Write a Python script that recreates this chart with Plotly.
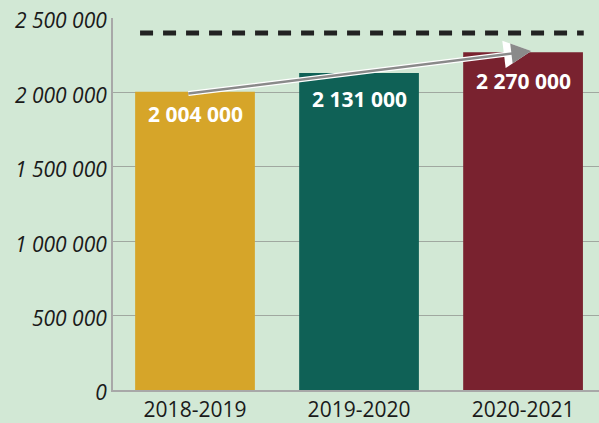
import plotly.graph_objects as go

categories = ["2018-2019", "2019-2020", "2020-2021"]
values = [2004000, 2131000, 2270000]
value_labels = ["2 004 000", "2 131 000", "2 270 000"]
bar_colors = ["#d6a529", "#0f6156", "#79222f"]
target_value = 2400000
y_tickvals = [0, 500000, 1000000, 1500000, 2000000, 2500000]
y_ticktext = ["0", "500 000", "1 000 000", "1 500 000", "2 000 000", "2 500 000"]

FONT = "Open Sans"
label_shifts = [-6, -10, -13]  # pixel offsets of value labels below bar tops (style)

fig = go.Figure()
fig.add_trace(go.Bar(
    x=list(range(len(categories))), y=values,
    marker=dict(color=bar_colors, line=dict(width=0)),
    width=0.73, hoverinfo="skip",
))

for i, (v, t) in enumerate(zip(values, value_labels)):
    fig.add_annotation(x=i, y=v, text=t, showarrow=False, yanchor="top", yshift=label_shifts[i],
                       font=dict(family=FONT, size=21, color="white", weight="bold"))

# target dashed line
fig.add_shape(type="line", xref="x", yref="y", x0=-0.335, x1=2.37, y0=target_value, y1=target_value,
              line=dict(color="#222222", width=5, dash="13px,10px"))

# growth arrow (white outline + grey arrow)
tail = (-0.05, 1991000)
head = (2.05, 2278000)
fig.add_annotation(x=head[0], y=head[1], ax=tail[0], ay=tail[1], axref="x", ayref="y",
                   xref="x", yref="y", showarrow=True, arrowhead=2, arrowsize=1.1,
                   arrowwidth=5, arrowcolor="white", text="")
fig.add_annotation(x=head[0], y=head[1], ax=tail[0], ay=tail[1], axref="x", ayref="y",
                   xref="x", yref="y", showarrow=True, arrowhead=2, arrowsize=1.6,
                   arrowwidth=2.5, arrowcolor="#8a8a8a", text="")

fig.update_layout(
    width=599, height=423,
    margin=dict(l=113, r=0, t=18, b=28),
    paper_bgcolor="#d2e8d5", plot_bgcolor="#d2e8d5",
    showlegend=False, bargap=0.27,
    font=dict(family=FONT, size=20, color="#1a1a1a"),
    xaxis=dict(tickvals=list(range(len(categories))), ticktext=categories, range=[-0.5, 2.463],
               showgrid=False, showline=True, linecolor="#a8a8a8", linewidth=2, ticks="",
               tickfont=dict(family=FONT, size=21, color="#1a1a1a"), zeroline=False),
    yaxis=dict(range=[0, 2500000], tickvals=y_tickvals, ticktext=y_ticktext,
               showgrid=True, gridcolor="#a0a8a0", gridwidth=1, showline=True,
               linecolor="#a8a8a8", linewidth=2, zeroline=False, ticks="",
               ticklabelshift=3,
               tickfont=dict(family=FONT, size=21, color="#1a1a1a", style="italic")),
)
fig.write_html("out.html", config={"displayModeBar": False},
               post_script="document.body.style.margin='0';document.body.style.overflow='hidden';document.body.style.background='#d2e8d5';")
